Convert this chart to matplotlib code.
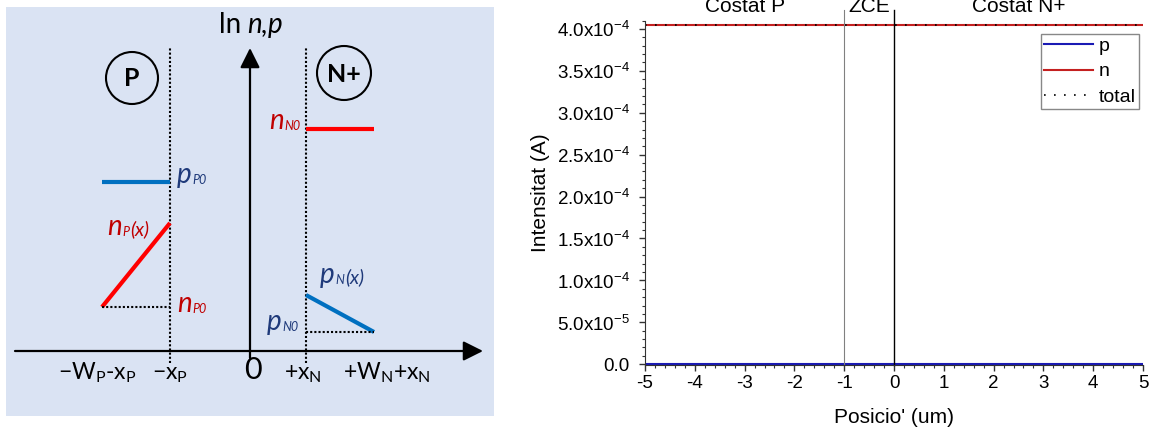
#
# Minority carrier profiles in a P-N+ diode: schematic + simulated currents
#
import numpy as np
import matplotlib
matplotlib.use('Agg')
import matplotlib.pyplot as plt
from matplotlib.patches import Circle
from matplotlib.ticker import MultipleLocator, FuncFormatter
from matplotlib.transforms import blended_transform_factory

plt.rcParams['font.family'] = ['Liberation Sans', 'DejaVu Sans']
plt.rcParams['axes.unicode_minus'] = False

SKETCH_FONT = ['Lato', 'DejaVu Sans']

# ---- schematic values (arbitrary units, origin where the axes cross)
x_edges = [-148, -80, 0, 56, 124]          # -Wp-xp, -xp, 0, +xn, +Wn+xn
edge_labels = ['\u2212W$_\\mathregular{P}$-x$_\\mathregular{P}$',
               '\u2212x$_\\mathregular{P}$',
               '0',
               '+x$_\\mathregular{N}$',
               '+W$_\\mathregular{N}$+x$_\\mathregular{N}$']
label_shift = [-5, 0, 3, -3, 13]
pP0 = 169        # majority holes, P side
nP0 = 44         # equilibrium electrons, P side
nP_edge = 128    # electrons at -xp
nN0 = 222        # majority electrons, N+ side
pN_edge = 56     # holes at +xn
pN0 = 19         # equilibrium holes, N+ side

# ---- simulated currents
pos_um = [-5.0, -1.0, 0.0, 5.0]
I_p = [0.0, 0.0, 0.0, 0.0]
I_n = [4.05e-4, 4.05e-4, 4.05e-4, 4.05e-4]
I_total = [4.05e-4, 4.05e-4, 4.05e-4, 4.05e-4]
zce = [-1.0, 0.0]
regions = ['Costat P', 'ZCE', 'Costat N+']

RED = '#ff0000'
BLUE = '#0070c0'
LRED = '#c00000'
NAVY = '#1f3a7a'


def sub_label(ax, x, y, main, sub, color, tail=None):
    '''Italic letter with a small subscript, optionally followed by (x)'''
    t = ax.text(x, y, main, color=color, fontsize=20, style='italic',
                family=SKETCH_FONT, va='baseline', ha='left')
    s = ax.annotate(sub, xy=(1, 0), xycoords=t, xytext=(0.5, 1.2),
                    textcoords='offset points', color=color, fontsize=9,
                    style='italic', family=SKETCH_FONT, va='bottom', ha='left')
    if tail:
        ax.annotate(tail, xy=(1, 0), xycoords=(s, t), xytext=(0.5, 1.0),
                    textcoords='offset points', color=color, fontsize=14,
                    style='italic', family=SKETCH_FONT, va='bottom', ha='left')


fig = plt.figure(figsize=(11.51, 4.33), dpi=100)

# ================= left: schematic =================
ax = fig.add_axes([6 / 1151, 17 / 433, 488 / 1151, 409 / 433])
ax.set_facecolor('#dae3f3')
ax.set_xlim(-244, 244)
ax.set_ylim(-65, 344)
ax.set_xticks([])
ax.set_yticks([])
for sp in ax.spines.values():
    sp.set_visible(False)

arrow = dict(arrowstyle='-|>,head_length=0.6,head_width=0.3', lw=1.6,
             color='black', shrinkA=0, shrinkB=0, mutation_scale=20)
ax.annotate('', xy=(233, 0), xytext=(-235, 0), arrowprops=arrow)
ax.annotate('', xy=(0, 303), xytext=(0, -7), arrowprops=arrow)

t = ax.text(-31, 318, 'ln', fontsize=20, family=SKETCH_FONT, va='baseline')
ax.annotate('n,p', xy=(1, 0), xycoords=t, xytext=(4, 0),
            textcoords='offset points', fontsize=20, style='italic',
            family=SKETCH_FONT, va='bottom')

# depletion edges
for xe in (x_edges[1], x_edges[3]):
    ax.plot([xe, xe], [-12, 303], color='black', lw=1.5, ls=(0, (1, 1)))

# P side
ax.plot(x_edges[0:2], [pP0, pP0], color=BLUE, lw=3, solid_capstyle='butt')
ax.plot(x_edges[0:2], [nP0, nP_edge], color=RED, lw=3, solid_capstyle='butt')
ax.plot(x_edges[0:2], [nP0, nP0], color='black', lw=1.5, ls=(0, (1, 1)))
# N+ side
ax.plot(x_edges[3:5], [nN0, nN0], color=RED, lw=3, solid_capstyle='butt')
ax.plot(x_edges[3:5], [pN_edge, pN0], color=BLUE, lw=3, solid_capstyle='butt')
ax.plot(x_edges[3:5], [pN0, pN0], color='black', lw=1.5, ls=(0, (1, 1)))

sub_label(ax, -73, 168, 'p', 'P0', NAVY)
sub_label(ax, -73, 39, 'n', 'P0', LRED)
sub_label(ax, -143, 116, 'n', 'P', LRED, '(x)')
sub_label(ax, 19, 222, 'n', 'N0', LRED)
sub_label(ax, 70, 68, 'p', 'N', NAVY, '(x)')
sub_label(ax, 17, 21, 'p', 'N0', NAVY)

ax.add_patch(Circle((-118, 273), 26, fill=False, lw=1.5, ec='black'))
ax.text(-118, 272, 'P', ha='center', va='center', fontsize=18,
        fontweight='bold', family=SKETCH_FONT)
ax.add_patch(Circle((94, 278), 27, fill=False, lw=1.5, ec='black'))
ax.text(94, 277, 'N+', ha='center', va='center', fontsize=18,
        fontweight='bold', family=SKETCH_FONT)

for i, xe in enumerate(x_edges):
    ax.text(xe + label_shift[i], -28, edge_labels[i], ha='center',
            va='baseline', fontsize=22 if edge_labels[i] == '0' else 16.5,
            family=SKETCH_FONT)

# ================= right: simulated currents =================
ax2 = fig.add_axes([645 / 1151, 68 / 433, 498 / 1151, 344.4 / 433])
ax2.plot(pos_um, I_p, color='#1a1ab4', lw=1.5, label='p')
ax2.plot(pos_um, I_n, color='#c42020', lw=1.5, label='n')
ax2.plot(pos_um, I_total, color='black', lw=1.2, ls=(0, (1, 5)), label='total')
ax2.axvline(zce[0], ymin=0, ymax=1.03, color='#808080', lw=0.8, clip_on=False)
ax2.axvline(zce[1], ymin=0, ymax=1.03, color='black', lw=1.0, clip_on=False)

ax2.set_xlim(-5, 5)
ax2.set_ylim(-1e-6, 4.1e-4)
ax2.xaxis.set_major_locator(MultipleLocator(1))
ax2.xaxis.set_minor_locator(MultipleLocator(0.2))
ax2.yaxis.set_major_locator(MultipleLocator(5e-5))
ax2.yaxis.set_minor_locator(MultipleLocator(1e-5))


def sci_fmt(v, pos):
    if abs(v) < 1e-12:
        return '0.0'
    e = int(np.floor(np.log10(abs(v))))
    return f'{v / 10**e:.1f}x10$^{{\\mathregular{{{e}}}}}$'


ax2.yaxis.set_major_formatter(FuncFormatter(sci_fmt))
ax2.spines['top'].set_visible(False)
ax2.spines['right'].set_visible(False)
for s in ('left', 'bottom'):
    ax2.spines[s].set_color('#333333')
ax2.tick_params(which='major', length=4.5, width=1, labelsize=13.5, pad=3,
                color='#333333')
ax2.tick_params(axis='y', which='major', pad=6.5)
ax2.tick_params(which='minor', length=2.5, width=0.8, color='#333333')

ax2.set_xlabel("Posicio' (um)", fontsize=15)
ax2.set_ylabel('Intensitat (A)', fontsize=15)
ax2.xaxis.set_label_coords(0.5, -0.125)
ax2.yaxis.set_label_coords(-0.19, 0.5)

bounds = [-5.0, zce[0], zce[1], 5.0]
trans = blended_transform_factory(ax2.transData, ax2.transAxes)
for i, name in enumerate(regions):
    ax2.text((bounds[i] + bounds[i + 1]) / 2, 1.025, name, transform=trans,
             ha='center', va='baseline', fontsize=15)

leg = ax2.legend(loc='upper right', bbox_to_anchor=(0.992, 0.961), fontsize=14,
                 fancybox=False, edgecolor='#888888', framealpha=1,
                 handlelength=2.5, handletextpad=0.3, borderpad=0.18,
                 labelspacing=0.39, borderaxespad=0)
leg.get_frame().set_linewidth(1.0)

fig.savefig('out.png', dpi=100)
